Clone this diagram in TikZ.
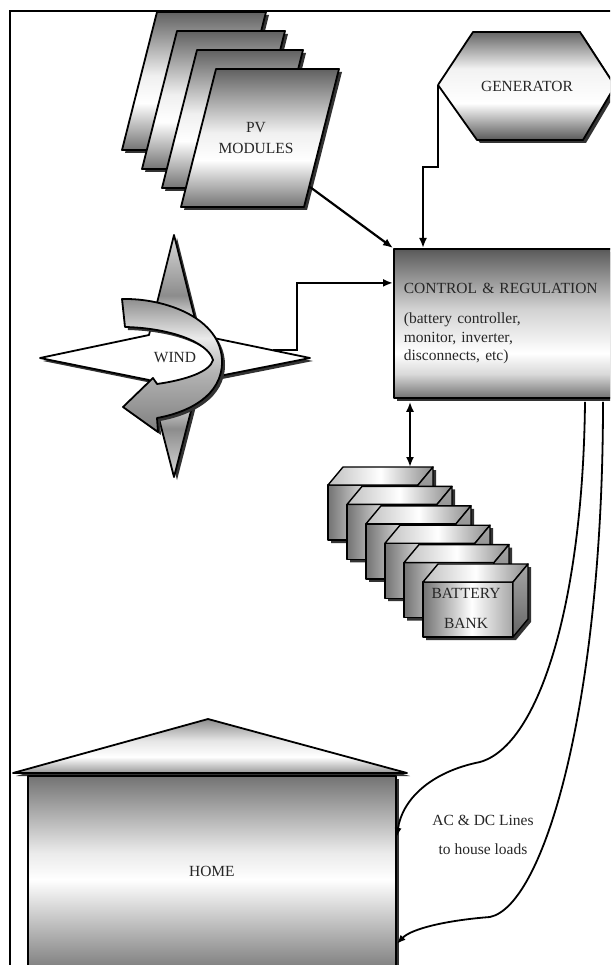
\documentclass[tikz,border=0pt]{standalone}
\usepackage{fontspec}
\setmainfont{Liberation Serif}
\usetikzlibrary{arrows.meta,shadows,calc}

% metallic gradients (25bp = bottom of the shape, 75bp = top)
\pgfdeclareverticalshading{panel}{100bp}{color(0bp)=(black!55); color(25bp)=(black!55); color(42bp)=(white); color(52bp)=(white!94!black); color(75bp)=(black!62); color(100bp)=(black!62)}
\pgfdeclareverticalshading{ctrlshade}{100bp}{color(0bp)=(black!55); color(25bp)=(black!55); color(33bp)=(white!85!black); color(40bp)=(white); color(55bp)=(black!18); color(75bp)=(black!65); color(100bp)=(black!65)}
\pgfdeclareverticalshading{hexshade}{100bp}{color(0bp)=(black!65); color(25bp)=(black!65); color(42bp)=(white); color(58bp)=(white!95!black); color(75bp)=(black!60); color(100bp)=(black!60)}
\pgfdeclareverticalshading{homeshade}{100bp}{color(0bp)=(black!50); color(25bp)=(black!50); color(48bp)=(white); color(55bp)=(white!92!black); color(75bp)=(black!55); color(100bp)=(black!55)}
\pgfdeclareverticalshading{roofshade}{100bp}{color(0bp)=(black!40); color(25bp)=(black!40); color(40bp)=(white); color(55bp)=(white!90!black); color(75bp)=(black!45); color(100bp)=(black!45)}
\pgfdeclareverticalshading{starshade}{100bp}{color(0bp)=(black!15); color(25bp)=(black!15); color(35bp)=(black!45); color(42.5bp)=(white); color(56bp)=(white); color(62.5bp)=(black!45); color(75bp)=(black!15); color(100bp)=(black!15)}
\pgfdeclareverticalshading{ribbonshade}{100bp}{color(0bp)=(black!50); color(25bp)=(black!50); color(47bp)=(black!30); color(60bp)=(black!8); color(75bp)=(black!45); color(100bp)=(black!45)}
\pgfdeclarehorizontalshading{batfront}{100bp}{color(0bp)=(black!55); color(25bp)=(black!55); color(52bp)=(white); color(75bp)=(black!35); color(100bp)=(black!35)}
\pgfdeclarehorizontalshading{battop}{100bp}{color(0bp)=(black!25); color(25bp)=(black!25); color(50bp)=(white); color(75bp)=(black!45); color(100bp)=(black!45)}
\pgfdeclareverticalshading{batside}{100bp}{color(0bp)=(black!60); color(25bp)=(black!60); color(75bp)=(black!35); color(100bp)=(black!35)}

\tikzset{
  outline/.style={draw=black, line width=1.8pt, line join=round},
  shd/.style={drop shadow={shadow xshift=3pt, shadow yshift=-3pt, fill=black!80, opacity=1}},
  wire/.style={line width=2.2pt},
  conn/.style={wire, -{Latex[length=10pt,width=8pt]}},
  biconn/.style={wire, {Latex[length=10pt,width=8pt]}-{Latex[length=10pt,width=8pt]}},
  thinconn/.style={line width=1.8pt, -{Latex[length=9pt,width=7pt]}},
  lbl/.style={inner sep=0pt, text=black!85},
}

\begin{document}
\begin{tikzpicture}[x=1pt, y=-1pt, font=\fontsize{15.5pt}{18.5pt}\selectfont]
\path[use as bounding box] (0,0) rectangle (610,965);
\fill[white] (0,0) rectangle (610,965);
\clip (0,0) rectangle (610,965);

% ---- PV module stack ----
\foreach \tl/\tr/\ty in {157/266/12, 177/285/31, 197/303/50, 216/339/69} {
  \path[outline, shd, shade, shading=panel]
    (\tl,\ty) -- (\tr,\ty) -- ({\tr-35},{\ty+138}) -- ({\tl-35},{\ty+138}) -- cycle;
}
\node[lbl, align=center, font=\fontsize{15.5pt}{20.5pt}\selectfont] (pv) at (256,138) {PV\\MODULES};
\coordinate (pvout) at (310,187);

% ---- generator ----
\coordinate (genW) at (438,85);
\path[outline, shd, shade, shading=hexshade]
  (genW) -- (473,32) -- (580,32) -- (615,86) -- (583,140) -- (477,140) -- cycle;
\node[lbl] (gen) at (527,86) {GENERATOR};

% ---- control & regulation ----
\node[outline, shd, shade, shading=ctrlshade, anchor=north west,
      minimum width=222pt, minimum height=149pt, text width=202pt,
      inner xsep=10pt, align=left, text=black!85] (ctrl) at (393,248)
  {CONTROL \& REGULATION\\[12pt](battery controller,\\monitor, inverter,\\disconnects, etc)};

% ---- wind ----
\path[outline, shd, shade, shading=starshade]
  (174,235) -- (199,335) -- (310,358) -- (199,380) -- (174,477)
  -- (149,380) -- (40,358) -- (149,335) -- cycle;
\path[outline, shd, shade, shading=ribbonshade]
  (122,299) .. controls (165,298) and (222,318) .. (222,362)
  .. controls (222,395) and (190,412) .. (157,418)
  -- (158,432) -- (123,407) -- (153,378) -- (157,384)
  .. controls (185,380) and (210,372) .. (213,360)
  .. controls (208,342) and (170,328) .. (125,327) -- cycle;
\node[lbl] (wind) at (175,358) {WIND};
\coordinate (windout) at (273,350);

% ---- battery bank ----
\foreach \i in {0,...,5} {
  \pgfmathsetmacro{\bx}{328+19*\i}
  \pgfmathsetmacro{\by}{485+19.4*\i}
  \fill[black!80, shift={(3,3)}] (\bx,{\by+55}) -- (\bx,\by) -- ({\bx+15},{\by-18})
    -- ({\bx+105},{\by-18}) -- ({\bx+105},{\by+37}) -- ({\bx+90},{\by+55}) -- cycle;
  \path[outline, line width=1.4pt, shade, shading=batfront] (\bx,\by) rectangle ({\bx+90},{\by+55});
  \path[outline, line width=1.4pt, shade, shading=battop]
    (\bx,\by) -- ({\bx+15},{\by-18}) -- ({\bx+105},{\by-18}) -- ({\bx+90},\by) -- cycle;
  \path[outline, line width=1.4pt, shade, shading=batside]
    ({\bx+90},\by) -- ({\bx+105},{\by-18}) -- ({\bx+105},{\by+37}) -- ({\bx+90},{\by+55}) -- cycle;
}
\node[lbl, align=center, font=\fontsize{15.5pt}{30pt}\selectfont] (bank) at (466,608) {BATTERY\\BANK};
\coordinate (battop) at (410,467);

% ---- home ----
\path[outline, shd, shade, shading=roofshade] (13,773) -- (208,719) -- (407,773) -- cycle;
\node[outline, shd, shade, shading=homeshade, anchor=north west,
      minimum width=368pt, minimum height=192pt, text=black!85] (home) at (27,775) {HOME};

% ---- connectors ----
\draw[conn] (pvout) -- (ctrl.north west);
\draw[conn] (genW) -- ++(0,82) -| ([xshift=30pt]ctrl.north west);
\draw[conn] (windout) -- ++(24,0) |- ([yshift=40.5pt]ctrl.west);
\draw[biconn] ([xshift=17pt,yshift=-3pt]ctrl.south west) -- (battop);

\coordinate (acbend) at (480,762);
\coordinate (dcbend) at (490,917);
\draw[thinconn] ([xshift=192pt,yshift=-3pt]ctrl.south west)
  .. controls (583,600) and (540,745) .. (acbend)
  .. controls (430,772) and (402,800) .. ([yshift=35pt]home.east);
\draw[thinconn] ([xshift=210pt,yshift=-3pt]ctrl.south west)
  .. controls (603,700) and (545,905) .. (dcbend)
  .. controls (450,920) and (412,928) .. ([yshift=-72pt]home.east);
\node[lbl, align=center, font=\fontsize{15.5pt}{29pt}\selectfont] (loads) at (483,834.5) {AC \& DC Lines\\to house loads};

% ---- frame ----
\draw[line width=2.2pt] (10,966) -- (10,11) -- (612,11);
\end{tikzpicture}
\end{document}
